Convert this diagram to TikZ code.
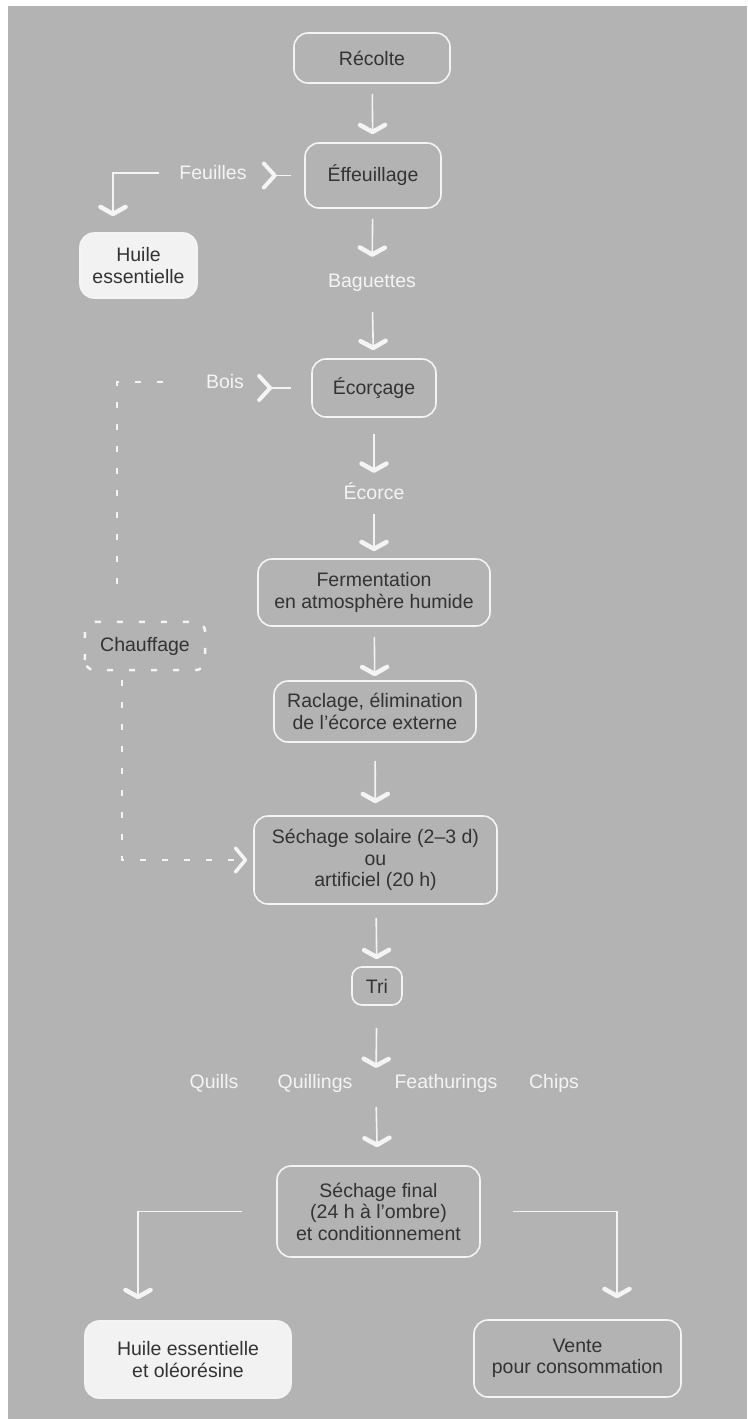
\documentclass[tikz,border=0pt]{standalone}
\usepackage{fontspec}
\setmainfont{Liberation Sans}
\usetikzlibrary{arrows.meta, positioning, calc}
\definecolor{PanelGray}{HTML}{B3B3B3}
\definecolor{InkDark}{HTML}{333333}
\definecolor{LineWhite}{HTML}{F4F4F4}
\definecolor{BoxFill}{HTML}{F2F2F2}

\begin{document}
\begin{tikzpicture}[x=1pt, y=-1pt,
    every node/.style={font=\fontsize{19.5}{21.5}\selectfont, align=center, inner sep=0pt},
    stage/.style={draw=LineWhite, line width=1.6pt, rounded corners=14pt, text=InkDark},
    product/.style={stage, fill=BoxFill},
    byproduct/.style={text=LineWhite, minimum height=26pt},
    flow/.style={draw=LineWhite, line width=1.6pt, -{Straight Barb[round, length=7pt, width=25pt, line width=4.5pt]}},
    mainflow/.style={flow, shorten <=10pt, shorten >=8pt},
    side/.style={draw=LineWhite, line width=1.6pt, -{Straight Barb[round, reversed, length=11pt, width=24pt, line width=4pt]}},
    heat/.style={draw=LineWhite, line width=2.5pt, dash pattern=on 6pt off 16pt}]

    % Setup
    \useasboundingbox (0,0) rectangle (747,1419);
    \fill[white] (0,0) rectangle (747,1419);
    \fill[PanelGray] (8,6) rectangle (747,1419);

    % --- Main line ---
    \node[stage, minimum width=156pt, minimum height=50pt] (recolte) at (372,58) {Récolte};
    \node[stage, minimum width=136pt, minimum height=65pt] (effeuil) at (373,175.5) {Éffeuillage};
    \node[byproduct] (baguettes) at (372,283) {Baguettes};
    \node[stage, minimum width=124pt, minimum height=58pt] (ecorcage) at (374,388) {Écorçage};
    \node[byproduct] (ecorce) at (374,491) {Écorce};
    \node[stage, minimum width=232pt, minimum height=67pt] (ferment) at (374,592.5) {Fermentation\\en atmosphère humide};
    \node[stage, minimum width=202pt, minimum height=61pt] (raclage) at (375,711.5) {Raclage, élimination\\de l'écorce externe};
    \node[stage, minimum width=243pt, minimum height=88pt] (sechage) at (375.5,860) {Séchage solaire (2–3 d)\\ou\\artificiel (20 h)};
    \node[stage, minimum width=50pt, minimum height=38pt, rounded corners=10pt] (tri) at (377,986) {Tri};

    % Grades
    \node[byproduct] (quills) at (214,1083) {Quills};
    \node[byproduct] (quillings) at (315,1083) {Quillings};
    \node[byproduct] (feathurings) at (446,1083) {Feathurings};
    \node[byproduct] (chips) at (554,1083) {Chips};
    \coordinate (typesN) at (376,1076);
    \coordinate (typesS) at (376,1097);

    \node[stage, minimum width=203pt, minimum height=91pt] (final) at (378.5,1211.5) {Séchage final\\(24 h à l'ombre)\\et conditionnement};

    % --- Products ---
    \node[product, minimum width=117pt, minimum height=65pt] (huileA) at (138.5,265.5) {Huile\\essentielle};
    \node[product, minimum width=206pt, minimum height=77pt] (huileB) at (188,1359.5) {Huile essentielle\\et oléorésine};
    \node[stage, minimum width=207pt, minimum height=77pt] (vente) at (577.5,1358.5) {Vente\\pour consommation};

    % Side outputs
    \node[byproduct] (feuilles) at (213,173) {Feuilles};
    \node[byproduct] (bois) at (225,382) {Bois};
    \node[text=InkDark, minimum width=120pt, minimum height=48pt] (chauffage) at (145,646) {Chauffage};
    \draw[heat, rounded corners=10pt] (chauffage.south west) rectangle (chauffage.north east);

    % --- Arrows ---
    \draw[mainflow] (recolte) -- (effeuil);
    \draw[mainflow, shorten >=13pt] (effeuil) -- (baguettes);
    \draw[mainflow, shorten <=16pt] (baguettes) -- (ecorcage);
    \draw[mainflow, shorten <=16pt, shorten >=5pt] (ecorcage) -- (ecorce);
    \draw[mainflow, shorten >=7pt] (ecorce) -- (ferment);
    \draw[mainflow, shorten >=4pt] (ferment) -- (raclage);
    \draw[mainflow, shorten <=18pt, shorten >=12pt] (raclage) -- (sechage);
    \draw[mainflow, shorten <=13pt, shorten >=7pt] (sechage) -- (tri);
    \draw[mainflow, shorten <=22pt, shorten >=8pt] (tri) -- (typesN);
    \draw[mainflow, shorten >=18pt] (typesS) -- (final);
    \draw[flow, shorten >=21pt] ([xshift=-34pt]final.west) -| ([xshift=-50pt]huileB.north);
    \draw[flow, shorten >=21pt] ([xshift=32pt]final.east) -| ([xshift=39.5pt]vente.north);

    % Leaves and wood
    \draw[side, shorten <=13pt, shorten >=15pt] (effeuil.west) -- (feuilles.east |- effeuil.west);
    \draw[flow, shorten >=16pt] ([xshift=-20pt]feuilles.west) -| ([xshift=-25.5pt]huileA.north);
    \draw[side, shorten <=20pt, shorten >=13pt] (ecorcage.west) -- (bois.east |- ecorcage.west);

    % Heating loop
    \draw[heat, shorten >=29pt] ([xshift=-43pt]bois.west) -| ([xshift=-28pt]chauffage.north);
    \draw[heat, shorten <=10pt, shorten >=6pt, -{Straight Barb[round, length=10pt, width=24pt, line width=3.5pt]}] ([xshift=-23pt]chauffage.south) |- (sechage.west);

\end{tikzpicture}
\end{document}
